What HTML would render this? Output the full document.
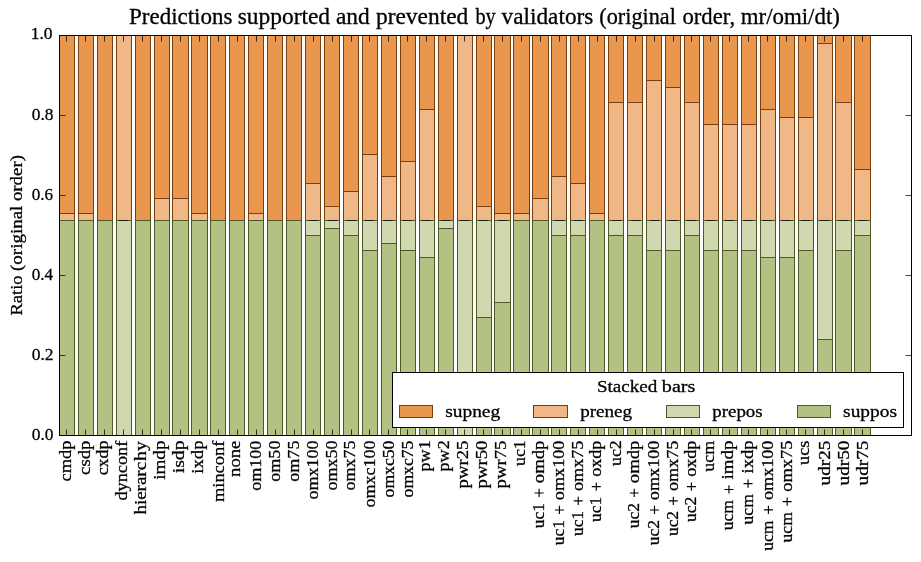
<!DOCTYPE html>
<html><head><meta charset="utf-8"><title>chart</title>
<style>
html,body{margin:0;padding:0;background:#fff;}
body{width:921px;height:562px;overflow:hidden;position:relative;font-family:"Liberation Serif",serif;}
svg{position:absolute;left:0;top:0;display:block}
text{font-family:"Liberation Serif",serif;fill:#000;stroke:#000;stroke-width:.3px}
</style></head><body>
<svg width="921" height="562" viewBox="0 0 921 562">
<rect x="0" y="0" width="921" height="562" fill="#fff"/>
<g shape-rendering="crispEdges">
<rect x="59.5" y="35.5" width="15" height="178" fill="#E9964F" stroke="#7A3E0A" stroke-width="1"/>
<rect x="59.5" y="213.5" width="15" height="7" fill="#F1B887" stroke="#7A3E0A" stroke-width="1"/>
<rect x="78.5" y="35.5" width="15" height="178" fill="#E9964F" stroke="#7A3E0A" stroke-width="1"/>
<rect x="78.5" y="213.5" width="15" height="7" fill="#F1B887" stroke="#7A3E0A" stroke-width="1"/>
<rect x="97.5" y="35.5" width="15" height="185" fill="#E9964F" stroke="#7A3E0A" stroke-width="1"/>
<rect x="116.5" y="35.5" width="15" height="0" fill="#E9964F" stroke="#7A3E0A" stroke-width="1"/>
<rect x="116.5" y="35.5" width="15" height="185" fill="#F1B887" stroke="#7A3E0A" stroke-width="1"/>
<rect x="135.5" y="35.5" width="15" height="185" fill="#E9964F" stroke="#7A3E0A" stroke-width="1"/>
<rect x="154.5" y="35.5" width="15" height="163" fill="#E9964F" stroke="#7A3E0A" stroke-width="1"/>
<rect x="154.5" y="198.5" width="15" height="22" fill="#F1B887" stroke="#7A3E0A" stroke-width="1"/>
<rect x="172.5" y="35.5" width="16" height="163" fill="#E9964F" stroke="#7A3E0A" stroke-width="1"/>
<rect x="172.5" y="198.5" width="16" height="22" fill="#F1B887" stroke="#7A3E0A" stroke-width="1"/>
<rect x="191.5" y="35.5" width="16" height="178" fill="#E9964F" stroke="#7A3E0A" stroke-width="1"/>
<rect x="191.5" y="213.5" width="16" height="7" fill="#F1B887" stroke="#7A3E0A" stroke-width="1"/>
<rect x="210.5" y="35.5" width="15" height="185" fill="#E9964F" stroke="#7A3E0A" stroke-width="1"/>
<rect x="229.5" y="35.5" width="15" height="185" fill="#E9964F" stroke="#7A3E0A" stroke-width="1"/>
<rect x="248.5" y="35.5" width="15" height="178" fill="#E9964F" stroke="#7A3E0A" stroke-width="1"/>
<rect x="248.5" y="213.5" width="15" height="7" fill="#F1B887" stroke="#7A3E0A" stroke-width="1"/>
<rect x="267.5" y="35.5" width="15" height="185" fill="#E9964F" stroke="#7A3E0A" stroke-width="1"/>
<rect x="286.5" y="35.5" width="15" height="185" fill="#E9964F" stroke="#7A3E0A" stroke-width="1"/>
<rect x="305.5" y="35.5" width="15" height="148" fill="#E9964F" stroke="#7A3E0A" stroke-width="1"/>
<rect x="305.5" y="183.5" width="15" height="37" fill="#F1B887" stroke="#7A3E0A" stroke-width="1"/>
<rect x="324.5" y="35.5" width="15" height="171" fill="#E9964F" stroke="#7A3E0A" stroke-width="1"/>
<rect x="324.5" y="206.5" width="15" height="14" fill="#F1B887" stroke="#7A3E0A" stroke-width="1"/>
<rect x="343.5" y="35.5" width="15" height="156" fill="#E9964F" stroke="#7A3E0A" stroke-width="1"/>
<rect x="343.5" y="191.5" width="15" height="29" fill="#F1B887" stroke="#7A3E0A" stroke-width="1"/>
<rect x="362.5" y="35.5" width="15" height="119" fill="#E9964F" stroke="#7A3E0A" stroke-width="1"/>
<rect x="362.5" y="154.5" width="15" height="66" fill="#F1B887" stroke="#7A3E0A" stroke-width="1"/>
<rect x="381.5" y="35.5" width="15" height="141" fill="#E9964F" stroke="#7A3E0A" stroke-width="1"/>
<rect x="381.5" y="176.5" width="15" height="44" fill="#F1B887" stroke="#7A3E0A" stroke-width="1"/>
<rect x="400.5" y="35.5" width="15" height="126" fill="#E9964F" stroke="#7A3E0A" stroke-width="1"/>
<rect x="400.5" y="161.5" width="15" height="59" fill="#F1B887" stroke="#7A3E0A" stroke-width="1"/>
<rect x="419.5" y="35.5" width="15" height="74" fill="#E9964F" stroke="#7A3E0A" stroke-width="1"/>
<rect x="419.5" y="109.5" width="15" height="111" fill="#F1B887" stroke="#7A3E0A" stroke-width="1"/>
<rect x="438.5" y="35.5" width="15" height="185" fill="#E9964F" stroke="#7A3E0A" stroke-width="1"/>
<rect x="457.5" y="35.5" width="15" height="0" fill="#E9964F" stroke="#7A3E0A" stroke-width="1"/>
<rect x="457.5" y="35.5" width="15" height="185" fill="#F1B887" stroke="#7A3E0A" stroke-width="1"/>
<rect x="476.5" y="35.5" width="15" height="171" fill="#E9964F" stroke="#7A3E0A" stroke-width="1"/>
<rect x="476.5" y="206.5" width="15" height="14" fill="#F1B887" stroke="#7A3E0A" stroke-width="1"/>
<rect x="494.5" y="35.5" width="16" height="178" fill="#E9964F" stroke="#7A3E0A" stroke-width="1"/>
<rect x="494.5" y="213.5" width="16" height="7" fill="#F1B887" stroke="#7A3E0A" stroke-width="1"/>
<rect x="513.5" y="35.5" width="16" height="178" fill="#E9964F" stroke="#7A3E0A" stroke-width="1"/>
<rect x="513.5" y="213.5" width="16" height="7" fill="#F1B887" stroke="#7A3E0A" stroke-width="1"/>
<rect x="532.5" y="35.5" width="16" height="163" fill="#E9964F" stroke="#7A3E0A" stroke-width="1"/>
<rect x="532.5" y="198.5" width="16" height="22" fill="#F1B887" stroke="#7A3E0A" stroke-width="1"/>
<rect x="551.5" y="35.5" width="15" height="141" fill="#E9964F" stroke="#7A3E0A" stroke-width="1"/>
<rect x="551.5" y="176.5" width="15" height="44" fill="#F1B887" stroke="#7A3E0A" stroke-width="1"/>
<rect x="570.5" y="35.5" width="15" height="148" fill="#E9964F" stroke="#7A3E0A" stroke-width="1"/>
<rect x="570.5" y="183.5" width="15" height="37" fill="#F1B887" stroke="#7A3E0A" stroke-width="1"/>
<rect x="589.5" y="35.5" width="15" height="178" fill="#E9964F" stroke="#7A3E0A" stroke-width="1"/>
<rect x="589.5" y="213.5" width="15" height="7" fill="#F1B887" stroke="#7A3E0A" stroke-width="1"/>
<rect x="608.5" y="35.5" width="15" height="67" fill="#E9964F" stroke="#7A3E0A" stroke-width="1"/>
<rect x="608.5" y="102.5" width="15" height="118" fill="#F1B887" stroke="#7A3E0A" stroke-width="1"/>
<rect x="627.5" y="35.5" width="15" height="67" fill="#E9964F" stroke="#7A3E0A" stroke-width="1"/>
<rect x="627.5" y="102.5" width="15" height="118" fill="#F1B887" stroke="#7A3E0A" stroke-width="1"/>
<rect x="646.5" y="35.5" width="15" height="45" fill="#E9964F" stroke="#7A3E0A" stroke-width="1"/>
<rect x="646.5" y="80.5" width="15" height="140" fill="#F1B887" stroke="#7A3E0A" stroke-width="1"/>
<rect x="665.5" y="35.5" width="15" height="52" fill="#E9964F" stroke="#7A3E0A" stroke-width="1"/>
<rect x="665.5" y="87.5" width="15" height="133" fill="#F1B887" stroke="#7A3E0A" stroke-width="1"/>
<rect x="684.5" y="35.5" width="15" height="67" fill="#E9964F" stroke="#7A3E0A" stroke-width="1"/>
<rect x="684.5" y="102.5" width="15" height="118" fill="#F1B887" stroke="#7A3E0A" stroke-width="1"/>
<rect x="703.5" y="35.5" width="15" height="89" fill="#E9964F" stroke="#7A3E0A" stroke-width="1"/>
<rect x="703.5" y="124.5" width="15" height="96" fill="#F1B887" stroke="#7A3E0A" stroke-width="1"/>
<rect x="722.5" y="35.5" width="15" height="89" fill="#E9964F" stroke="#7A3E0A" stroke-width="1"/>
<rect x="722.5" y="124.5" width="15" height="96" fill="#F1B887" stroke="#7A3E0A" stroke-width="1"/>
<rect x="741.5" y="35.5" width="15" height="89" fill="#E9964F" stroke="#7A3E0A" stroke-width="1"/>
<rect x="741.5" y="124.5" width="15" height="96" fill="#F1B887" stroke="#7A3E0A" stroke-width="1"/>
<rect x="760.5" y="35.5" width="15" height="74" fill="#E9964F" stroke="#7A3E0A" stroke-width="1"/>
<rect x="760.5" y="109.5" width="15" height="111" fill="#F1B887" stroke="#7A3E0A" stroke-width="1"/>
<rect x="779.5" y="35.5" width="15" height="82" fill="#E9964F" stroke="#7A3E0A" stroke-width="1"/>
<rect x="779.5" y="117.5" width="15" height="103" fill="#F1B887" stroke="#7A3E0A" stroke-width="1"/>
<rect x="798.5" y="35.5" width="15" height="82" fill="#E9964F" stroke="#7A3E0A" stroke-width="1"/>
<rect x="798.5" y="117.5" width="15" height="103" fill="#F1B887" stroke="#7A3E0A" stroke-width="1"/>
<rect x="817.5" y="35.5" width="15" height="8" fill="#E9964F" stroke="#7A3E0A" stroke-width="1"/>
<rect x="817.5" y="43.5" width="15" height="177" fill="#F1B887" stroke="#7A3E0A" stroke-width="1"/>
<rect x="835.5" y="35.5" width="16" height="67" fill="#E9964F" stroke="#7A3E0A" stroke-width="1"/>
<rect x="835.5" y="102.5" width="16" height="118" fill="#F1B887" stroke="#7A3E0A" stroke-width="1"/>
<rect x="854.5" y="35.5" width="16" height="134" fill="#E9964F" stroke="#7A3E0A" stroke-width="1"/>
<rect x="854.5" y="169.5" width="16" height="51" fill="#F1B887" stroke="#7A3E0A" stroke-width="1"/>
<rect x="59.5" y="220.5" width="15" height="215" fill="#B3C182" stroke="#505A28" stroke-width="1"/>
<rect x="78.5" y="220.5" width="15" height="215" fill="#B3C182" stroke="#505A28" stroke-width="1"/>
<rect x="97.5" y="220.5" width="15" height="215" fill="#B3C182" stroke="#505A28" stroke-width="1"/>
<rect x="116.5" y="220.5" width="15" height="215" fill="#CFD8AE" stroke="#505A28" stroke-width="1"/>
<rect x="135.5" y="220.5" width="15" height="215" fill="#B3C182" stroke="#505A28" stroke-width="1"/>
<rect x="154.5" y="220.5" width="15" height="215" fill="#B3C182" stroke="#505A28" stroke-width="1"/>
<rect x="172.5" y="220.5" width="16" height="215" fill="#B3C182" stroke="#505A28" stroke-width="1"/>
<rect x="191.5" y="220.5" width="16" height="215" fill="#B3C182" stroke="#505A28" stroke-width="1"/>
<rect x="210.5" y="220.5" width="15" height="215" fill="#B3C182" stroke="#505A28" stroke-width="1"/>
<rect x="229.5" y="220.5" width="15" height="215" fill="#B3C182" stroke="#505A28" stroke-width="1"/>
<rect x="248.5" y="220.5" width="15" height="215" fill="#B3C182" stroke="#505A28" stroke-width="1"/>
<rect x="267.5" y="220.5" width="15" height="215" fill="#B3C182" stroke="#505A28" stroke-width="1"/>
<rect x="286.5" y="220.5" width="15" height="215" fill="#B3C182" stroke="#505A28" stroke-width="1"/>
<rect x="305.5" y="220.5" width="15" height="15" fill="#CFD8AE" stroke="#505A28" stroke-width="1"/>
<rect x="305.5" y="235.5" width="15" height="200" fill="#B3C182" stroke="#505A28" stroke-width="1"/>
<rect x="324.5" y="220.5" width="15" height="8" fill="#CFD8AE" stroke="#505A28" stroke-width="1"/>
<rect x="324.5" y="228.5" width="15" height="207" fill="#B3C182" stroke="#505A28" stroke-width="1"/>
<rect x="343.5" y="220.5" width="15" height="15" fill="#CFD8AE" stroke="#505A28" stroke-width="1"/>
<rect x="343.5" y="235.5" width="15" height="200" fill="#B3C182" stroke="#505A28" stroke-width="1"/>
<rect x="362.5" y="220.5" width="15" height="30" fill="#CFD8AE" stroke="#505A28" stroke-width="1"/>
<rect x="362.5" y="250.5" width="15" height="185" fill="#B3C182" stroke="#505A28" stroke-width="1"/>
<rect x="381.5" y="220.5" width="15" height="23" fill="#CFD8AE" stroke="#505A28" stroke-width="1"/>
<rect x="381.5" y="243.5" width="15" height="192" fill="#B3C182" stroke="#505A28" stroke-width="1"/>
<rect x="400.5" y="220.5" width="15" height="30" fill="#CFD8AE" stroke="#505A28" stroke-width="1"/>
<rect x="400.5" y="250.5" width="15" height="185" fill="#B3C182" stroke="#505A28" stroke-width="1"/>
<rect x="419.5" y="220.5" width="15" height="37" fill="#CFD8AE" stroke="#505A28" stroke-width="1"/>
<rect x="419.5" y="257.5" width="15" height="178" fill="#B3C182" stroke="#505A28" stroke-width="1"/>
<rect x="438.5" y="220.5" width="15" height="8" fill="#CFD8AE" stroke="#505A28" stroke-width="1"/>
<rect x="438.5" y="228.5" width="15" height="207" fill="#B3C182" stroke="#505A28" stroke-width="1"/>
<rect x="457.5" y="220.5" width="15" height="215" fill="#CFD8AE" stroke="#505A28" stroke-width="1"/>
<rect x="476.5" y="220.5" width="15" height="97" fill="#CFD8AE" stroke="#505A28" stroke-width="1"/>
<rect x="476.5" y="317.5" width="15" height="118" fill="#B3C182" stroke="#505A28" stroke-width="1"/>
<rect x="494.5" y="220.5" width="16" height="82" fill="#CFD8AE" stroke="#505A28" stroke-width="1"/>
<rect x="494.5" y="302.5" width="16" height="133" fill="#B3C182" stroke="#505A28" stroke-width="1"/>
<rect x="513.5" y="220.5" width="16" height="215" fill="#B3C182" stroke="#505A28" stroke-width="1"/>
<rect x="532.5" y="220.5" width="16" height="215" fill="#B3C182" stroke="#505A28" stroke-width="1"/>
<rect x="551.5" y="220.5" width="15" height="15" fill="#CFD8AE" stroke="#505A28" stroke-width="1"/>
<rect x="551.5" y="235.5" width="15" height="200" fill="#B3C182" stroke="#505A28" stroke-width="1"/>
<rect x="570.5" y="220.5" width="15" height="15" fill="#CFD8AE" stroke="#505A28" stroke-width="1"/>
<rect x="570.5" y="235.5" width="15" height="200" fill="#B3C182" stroke="#505A28" stroke-width="1"/>
<rect x="589.5" y="220.5" width="15" height="215" fill="#B3C182" stroke="#505A28" stroke-width="1"/>
<rect x="608.5" y="220.5" width="15" height="15" fill="#CFD8AE" stroke="#505A28" stroke-width="1"/>
<rect x="608.5" y="235.5" width="15" height="200" fill="#B3C182" stroke="#505A28" stroke-width="1"/>
<rect x="627.5" y="220.5" width="15" height="15" fill="#CFD8AE" stroke="#505A28" stroke-width="1"/>
<rect x="627.5" y="235.5" width="15" height="200" fill="#B3C182" stroke="#505A28" stroke-width="1"/>
<rect x="646.5" y="220.5" width="15" height="30" fill="#CFD8AE" stroke="#505A28" stroke-width="1"/>
<rect x="646.5" y="250.5" width="15" height="185" fill="#B3C182" stroke="#505A28" stroke-width="1"/>
<rect x="665.5" y="220.5" width="15" height="30" fill="#CFD8AE" stroke="#505A28" stroke-width="1"/>
<rect x="665.5" y="250.5" width="15" height="185" fill="#B3C182" stroke="#505A28" stroke-width="1"/>
<rect x="684.5" y="220.5" width="15" height="15" fill="#CFD8AE" stroke="#505A28" stroke-width="1"/>
<rect x="684.5" y="235.5" width="15" height="200" fill="#B3C182" stroke="#505A28" stroke-width="1"/>
<rect x="703.5" y="220.5" width="15" height="30" fill="#CFD8AE" stroke="#505A28" stroke-width="1"/>
<rect x="703.5" y="250.5" width="15" height="185" fill="#B3C182" stroke="#505A28" stroke-width="1"/>
<rect x="722.5" y="220.5" width="15" height="30" fill="#CFD8AE" stroke="#505A28" stroke-width="1"/>
<rect x="722.5" y="250.5" width="15" height="185" fill="#B3C182" stroke="#505A28" stroke-width="1"/>
<rect x="741.5" y="220.5" width="15" height="30" fill="#CFD8AE" stroke="#505A28" stroke-width="1"/>
<rect x="741.5" y="250.5" width="15" height="185" fill="#B3C182" stroke="#505A28" stroke-width="1"/>
<rect x="760.5" y="220.5" width="15" height="37" fill="#CFD8AE" stroke="#505A28" stroke-width="1"/>
<rect x="760.5" y="257.5" width="15" height="178" fill="#B3C182" stroke="#505A28" stroke-width="1"/>
<rect x="779.5" y="220.5" width="15" height="37" fill="#CFD8AE" stroke="#505A28" stroke-width="1"/>
<rect x="779.5" y="257.5" width="15" height="178" fill="#B3C182" stroke="#505A28" stroke-width="1"/>
<rect x="798.5" y="220.5" width="15" height="30" fill="#CFD8AE" stroke="#505A28" stroke-width="1"/>
<rect x="798.5" y="250.5" width="15" height="185" fill="#B3C182" stroke="#505A28" stroke-width="1"/>
<rect x="817.5" y="220.5" width="15" height="119" fill="#CFD8AE" stroke="#505A28" stroke-width="1"/>
<rect x="817.5" y="339.5" width="15" height="96" fill="#B3C182" stroke="#505A28" stroke-width="1"/>
<rect x="835.5" y="220.5" width="16" height="30" fill="#CFD8AE" stroke="#505A28" stroke-width="1"/>
<rect x="835.5" y="250.5" width="16" height="185" fill="#B3C182" stroke="#505A28" stroke-width="1"/>
<rect x="854.5" y="220.5" width="16" height="15" fill="#CFD8AE" stroke="#505A28" stroke-width="1"/>
<rect x="854.5" y="235.5" width="16" height="200" fill="#B3C182" stroke="#505A28" stroke-width="1"/>
<rect x="119" y="220" width="9" height="1" fill="#111" opacity=".8"/>
<rect x="309" y="220" width="9" height="1" fill="#111" opacity=".8"/>
<rect x="328" y="220" width="9" height="1" fill="#111" opacity=".8"/>
<rect x="347" y="220" width="9" height="1" fill="#111" opacity=".8"/>
<rect x="365" y="220" width="9" height="1" fill="#111" opacity=".8"/>
<rect x="384" y="220" width="9" height="1" fill="#111" opacity=".8"/>
<rect x="403" y="220" width="9" height="1" fill="#111" opacity=".8"/>
<rect x="422" y="220" width="9" height="1" fill="#111" opacity=".8"/>
<rect x="441" y="220" width="9" height="1" fill="#111" opacity=".8"/>
<rect x="460" y="220" width="9" height="1" fill="#111" opacity=".8"/>
<rect x="479" y="220" width="9" height="1" fill="#111" opacity=".8"/>
<rect x="498" y="220" width="9" height="1" fill="#111" opacity=".8"/>
<rect x="555" y="220" width="9" height="1" fill="#111" opacity=".8"/>
<rect x="574" y="220" width="9" height="1" fill="#111" opacity=".8"/>
<rect x="612" y="220" width="9" height="1" fill="#111" opacity=".8"/>
<rect x="631" y="220" width="9" height="1" fill="#111" opacity=".8"/>
<rect x="650" y="220" width="9" height="1" fill="#111" opacity=".8"/>
<rect x="669" y="220" width="9" height="1" fill="#111" opacity=".8"/>
<rect x="687" y="220" width="9" height="1" fill="#111" opacity=".8"/>
<rect x="706" y="220" width="9" height="1" fill="#111" opacity=".8"/>
<rect x="725" y="220" width="9" height="1" fill="#111" opacity=".8"/>
<rect x="744" y="220" width="9" height="1" fill="#111" opacity=".8"/>
<rect x="763" y="220" width="9" height="1" fill="#111" opacity=".8"/>
<rect x="782" y="220" width="9" height="1" fill="#111" opacity=".8"/>
<rect x="801" y="220" width="9" height="1" fill="#111" opacity=".8"/>
<rect x="820" y="220" width="9" height="1" fill="#111" opacity=".8"/>
<rect x="839" y="220" width="9" height="1" fill="#111" opacity=".8"/>
<rect x="858" y="220" width="9" height="1" fill="#111" opacity=".8"/>
</g>
<g fill="#000" opacity=".75" shape-rendering="crispEdges"><rect x="66" y="430" width="1" height="5"/><rect x="66" y="429" width="1" height="1" opacity=".5"/><rect x="66" y="36" width="1" height="5"/><rect x="66" y="41" width="1" height="1" opacity=".5"/><rect x="85" y="430" width="1" height="5"/><rect x="85" y="429" width="1" height="1" opacity=".5"/><rect x="85" y="36" width="1" height="5"/><rect x="85" y="41" width="1" height="1" opacity=".5"/><rect x="104" y="430" width="1" height="5"/><rect x="104" y="429" width="1" height="1" opacity=".5"/><rect x="104" y="36" width="1" height="5"/><rect x="104" y="41" width="1" height="1" opacity=".5"/><rect x="123" y="430" width="1" height="5"/><rect x="123" y="429" width="1" height="1" opacity=".5"/><rect x="123" y="36" width="1" height="5"/><rect x="123" y="41" width="1" height="1" opacity=".5"/><rect x="142" y="430" width="1" height="5"/><rect x="142" y="429" width="1" height="1" opacity=".5"/><rect x="142" y="36" width="1" height="5"/><rect x="142" y="41" width="1" height="1" opacity=".5"/><rect x="161" y="430" width="1" height="5"/><rect x="161" y="429" width="1" height="1" opacity=".5"/><rect x="161" y="36" width="1" height="5"/><rect x="161" y="41" width="1" height="1" opacity=".5"/><rect x="180" y="430" width="1" height="5"/><rect x="180" y="429" width="1" height="1" opacity=".5"/><rect x="180" y="36" width="1" height="5"/><rect x="180" y="41" width="1" height="1" opacity=".5"/><rect x="199" y="430" width="1" height="5"/><rect x="199" y="429" width="1" height="1" opacity=".5"/><rect x="199" y="36" width="1" height="5"/><rect x="199" y="41" width="1" height="1" opacity=".5"/><rect x="218" y="430" width="1" height="5"/><rect x="218" y="429" width="1" height="1" opacity=".5"/><rect x="218" y="36" width="1" height="5"/><rect x="218" y="41" width="1" height="1" opacity=".5"/><rect x="237" y="430" width="1" height="5"/><rect x="237" y="429" width="1" height="1" opacity=".5"/><rect x="237" y="36" width="1" height="5"/><rect x="237" y="41" width="1" height="1" opacity=".5"/><rect x="256" y="430" width="1" height="5"/><rect x="256" y="429" width="1" height="1" opacity=".5"/><rect x="256" y="36" width="1" height="5"/><rect x="256" y="41" width="1" height="1" opacity=".5"/><rect x="275" y="430" width="1" height="5"/><rect x="275" y="429" width="1" height="1" opacity=".5"/><rect x="275" y="36" width="1" height="5"/><rect x="275" y="41" width="1" height="1" opacity=".5"/><rect x="294" y="430" width="1" height="5"/><rect x="294" y="429" width="1" height="1" opacity=".5"/><rect x="294" y="36" width="1" height="5"/><rect x="294" y="41" width="1" height="1" opacity=".5"/><rect x="313" y="430" width="1" height="5"/><rect x="313" y="429" width="1" height="1" opacity=".5"/><rect x="313" y="36" width="1" height="5"/><rect x="313" y="41" width="1" height="1" opacity=".5"/><rect x="332" y="430" width="1" height="5"/><rect x="332" y="429" width="1" height="1" opacity=".5"/><rect x="332" y="36" width="1" height="5"/><rect x="332" y="41" width="1" height="1" opacity=".5"/><rect x="351" y="430" width="1" height="5"/><rect x="351" y="429" width="1" height="1" opacity=".5"/><rect x="351" y="36" width="1" height="5"/><rect x="351" y="41" width="1" height="1" opacity=".5"/><rect x="369" y="430" width="1" height="5"/><rect x="369" y="429" width="1" height="1" opacity=".5"/><rect x="369" y="36" width="1" height="5"/><rect x="369" y="41" width="1" height="1" opacity=".5"/><rect x="388" y="430" width="1" height="5"/><rect x="388" y="429" width="1" height="1" opacity=".5"/><rect x="388" y="36" width="1" height="5"/><rect x="388" y="41" width="1" height="1" opacity=".5"/><rect x="407" y="430" width="1" height="5"/><rect x="407" y="429" width="1" height="1" opacity=".5"/><rect x="407" y="36" width="1" height="5"/><rect x="407" y="41" width="1" height="1" opacity=".5"/><rect x="426" y="430" width="1" height="5"/><rect x="426" y="429" width="1" height="1" opacity=".5"/><rect x="426" y="36" width="1" height="5"/><rect x="426" y="41" width="1" height="1" opacity=".5"/><rect x="445" y="430" width="1" height="5"/><rect x="445" y="429" width="1" height="1" opacity=".5"/><rect x="445" y="36" width="1" height="5"/><rect x="445" y="41" width="1" height="1" opacity=".5"/><rect x="464" y="430" width="1" height="5"/><rect x="464" y="429" width="1" height="1" opacity=".5"/><rect x="464" y="36" width="1" height="5"/><rect x="464" y="41" width="1" height="1" opacity=".5"/><rect x="483" y="430" width="1" height="5"/><rect x="483" y="429" width="1" height="1" opacity=".5"/><rect x="483" y="36" width="1" height="5"/><rect x="483" y="41" width="1" height="1" opacity=".5"/><rect x="502" y="430" width="1" height="5"/><rect x="502" y="429" width="1" height="1" opacity=".5"/><rect x="502" y="36" width="1" height="5"/><rect x="502" y="41" width="1" height="1" opacity=".5"/><rect x="521" y="430" width="1" height="5"/><rect x="521" y="429" width="1" height="1" opacity=".5"/><rect x="521" y="36" width="1" height="5"/><rect x="521" y="41" width="1" height="1" opacity=".5"/><rect x="540" y="430" width="1" height="5"/><rect x="540" y="429" width="1" height="1" opacity=".5"/><rect x="540" y="36" width="1" height="5"/><rect x="540" y="41" width="1" height="1" opacity=".5"/><rect x="559" y="430" width="1" height="5"/><rect x="559" y="429" width="1" height="1" opacity=".5"/><rect x="559" y="36" width="1" height="5"/><rect x="559" y="41" width="1" height="1" opacity=".5"/><rect x="578" y="430" width="1" height="5"/><rect x="578" y="429" width="1" height="1" opacity=".5"/><rect x="578" y="36" width="1" height="5"/><rect x="578" y="41" width="1" height="1" opacity=".5"/><rect x="597" y="430" width="1" height="5"/><rect x="597" y="429" width="1" height="1" opacity=".5"/><rect x="597" y="36" width="1" height="5"/><rect x="597" y="41" width="1" height="1" opacity=".5"/><rect x="616" y="430" width="1" height="5"/><rect x="616" y="429" width="1" height="1" opacity=".5"/><rect x="616" y="36" width="1" height="5"/><rect x="616" y="41" width="1" height="1" opacity=".5"/><rect x="635" y="430" width="1" height="5"/><rect x="635" y="429" width="1" height="1" opacity=".5"/><rect x="635" y="36" width="1" height="5"/><rect x="635" y="41" width="1" height="1" opacity=".5"/><rect x="654" y="430" width="1" height="5"/><rect x="654" y="429" width="1" height="1" opacity=".5"/><rect x="654" y="36" width="1" height="5"/><rect x="654" y="41" width="1" height="1" opacity=".5"/><rect x="673" y="430" width="1" height="5"/><rect x="673" y="429" width="1" height="1" opacity=".5"/><rect x="673" y="36" width="1" height="5"/><rect x="673" y="41" width="1" height="1" opacity=".5"/><rect x="691" y="430" width="1" height="5"/><rect x="691" y="429" width="1" height="1" opacity=".5"/><rect x="691" y="36" width="1" height="5"/><rect x="691" y="41" width="1" height="1" opacity=".5"/><rect x="710" y="430" width="1" height="5"/><rect x="710" y="429" width="1" height="1" opacity=".5"/><rect x="710" y="36" width="1" height="5"/><rect x="710" y="41" width="1" height="1" opacity=".5"/><rect x="729" y="430" width="1" height="5"/><rect x="729" y="429" width="1" height="1" opacity=".5"/><rect x="729" y="36" width="1" height="5"/><rect x="729" y="41" width="1" height="1" opacity=".5"/><rect x="748" y="430" width="1" height="5"/><rect x="748" y="429" width="1" height="1" opacity=".5"/><rect x="748" y="36" width="1" height="5"/><rect x="748" y="41" width="1" height="1" opacity=".5"/><rect x="767" y="430" width="1" height="5"/><rect x="767" y="429" width="1" height="1" opacity=".5"/><rect x="767" y="36" width="1" height="5"/><rect x="767" y="41" width="1" height="1" opacity=".5"/><rect x="786" y="430" width="1" height="5"/><rect x="786" y="429" width="1" height="1" opacity=".5"/><rect x="786" y="36" width="1" height="5"/><rect x="786" y="41" width="1" height="1" opacity=".5"/><rect x="805" y="430" width="1" height="5"/><rect x="805" y="429" width="1" height="1" opacity=".5"/><rect x="805" y="36" width="1" height="5"/><rect x="805" y="41" width="1" height="1" opacity=".5"/><rect x="824" y="430" width="1" height="5"/><rect x="824" y="429" width="1" height="1" opacity=".5"/><rect x="824" y="36" width="1" height="5"/><rect x="824" y="41" width="1" height="1" opacity=".5"/><rect x="843" y="430" width="1" height="5"/><rect x="843" y="429" width="1" height="1" opacity=".5"/><rect x="843" y="36" width="1" height="5"/><rect x="843" y="41" width="1" height="1" opacity=".5"/><rect x="862" y="430" width="1" height="5"/><rect x="862" y="429" width="1" height="1" opacity=".5"/><rect x="862" y="36" width="1" height="5"/><rect x="862" y="41" width="1" height="1" opacity=".5"/><rect x="60" y="355" width="5" height="1"/><rect x="65" y="355" width="1" height="1" opacity=".5"/><rect x="906" y="355" width="5" height="1"/><rect x="905" y="355" width="1" height="1" opacity=".5"/><rect x="60" y="275" width="5" height="1"/><rect x="65" y="275" width="1" height="1" opacity=".5"/><rect x="906" y="275" width="5" height="1"/><rect x="905" y="275" width="1" height="1" opacity=".5"/><rect x="60" y="195" width="5" height="1"/><rect x="65" y="195" width="1" height="1" opacity=".5"/><rect x="906" y="195" width="5" height="1"/><rect x="905" y="195" width="1" height="1" opacity=".5"/><rect x="60" y="115" width="5" height="1"/><rect x="65" y="115" width="1" height="1" opacity=".5"/><rect x="906" y="115" width="5" height="1"/><rect x="905" y="115" width="1" height="1" opacity=".5"/></g>
<rect x="59.5" y="35.5" width="852" height="400" fill="none" stroke="#000" stroke-width="1" shape-rendering="crispEdges"/>
<rect x="392.5" y="372.5" width="511" height="55" fill="#fff" stroke="#000" stroke-width="1" shape-rendering="crispEdges"/>
<rect x="399.5" y="405.5" width="33" height="12" fill="#E9964F" stroke="#7A3E0A" stroke-width="1" shape-rendering="crispEdges"/>
<rect x="533.5" y="405.5" width="34" height="12" fill="#F1B887" stroke="#7A3E0A" stroke-width="1" shape-rendering="crispEdges"/>
<rect x="666.5" y="405.5" width="33" height="12" fill="#CFD8AE" stroke="#505A28" stroke-width="1" shape-rendering="crispEdges"/>
<rect x="797.5" y="405.5" width="33" height="12" fill="#B3C182" stroke="#505A28" stroke-width="1" shape-rendering="crispEdges"/>
<g opacity=".999">
<text transform="translate(129.04,24.20) scale(1.0356,1)" font-size="22.2">Predictions</text>
<text transform="translate(237.67,24.20) scale(1.0557,1)" font-size="22.2">supported</text>
<text transform="translate(335.97,24.20) scale(1.0555,1)" font-size="22.2">and</text>
<text transform="translate(375.93,24.20) scale(1.0554,1)" font-size="22.2">prevented</text>
<text transform="translate(475.40,24.20) scale(0.9144,1)" font-size="22.2">by</text>
<text transform="translate(501.60,24.20) scale(1.0486,1)" font-size="22.2">validators</text>
<text transform="translate(599.31,24.20) scale(1.0016,1)" font-size="22.2">(original</text>
<text transform="translate(682.39,24.20) scale(1.0239,1)" font-size="22.2">order,</text>
<text transform="translate(740.74,24.20) scale(1.0311,1)" font-size="22.2">mr/omi/dt)</text>
<text transform="translate(445.19,416.80) scale(1.1559,1)" font-size="16.8">supneg</text>
<text transform="translate(580.20,416.80) scale(1.1354,1)" font-size="16.8">preneg</text>
<text transform="translate(712.30,416.80) scale(1.1244,1)" font-size="16.8">prepos</text>
<text transform="translate(843.09,416.80) scale(1.1545,1)" font-size="16.8">suppos</text>
<text transform="translate(596.91,391.80) scale(1.0902,1)" font-size="17.5">Stacked</text>
<text transform="translate(661.80,391.80) scale(1.1525,1)" font-size="17.5">bars</text>
<text transform="translate(31.76,440.00) scale(0.9961,1)" font-size="17.5" stroke-width=".1">0.0</text>
<text transform="translate(31.75,360.00) scale(0.9996,1)" font-size="17.5" stroke-width=".1">0.2</text>
<text transform="translate(31.76,280.00) scale(0.9784,1)" font-size="17.5" stroke-width=".1">0.4</text>
<text transform="translate(31.76,200.00) scale(0.9784,1)" font-size="17.5" stroke-width=".1">0.6</text>
<text transform="translate(31.76,120.00) scale(0.9913,1)" font-size="17.5" stroke-width=".1">0.8</text>
<text transform="translate(30.63,39.05) scale(1.0020,1)" font-size="17.5" stroke-width=".1">1.0</text>
<text transform="translate(70.70,481.48) rotate(-90) scale(1.0533,1)" font-size="17.5">cmdp</text>
<text transform="translate(89.70,474.89) rotate(-90) scale(1.0715,1)" font-size="17.5">csdp</text>
<text transform="translate(108.40,475.36) rotate(-90) scale(1.0236,1)" font-size="17.5">cxdp</text>
<text transform="translate(126.80,500.57) rotate(-90) scale(1.0441,1)" font-size="17.5">dynconf</text>
<text transform="translate(145.60,514.60) rotate(-90) scale(1.0854,1)" font-size="17.5">hierarc</text>
<text transform="translate(145.60,460.90) rotate(-90) scale(1.1314,1)" font-size="17.5">hy</text>
<text transform="translate(164.70,479.80) rotate(-90) scale(1.0923,1)" font-size="17.5">imdp</text>
<text transform="translate(183.70,473.21) rotate(-90) scale(1.1216,1)" font-size="17.5">isdp</text>
<text transform="translate(202.70,473.69) rotate(-90) scale(1.0663,1)" font-size="17.5">ixdp</text>
<text transform="translate(223.75,501.99) rotate(-90) scale(1.0509,1)" font-size="17.5">minconf</text>
<text transform="translate(239.80,476.89) rotate(-90) scale(1.0642,1)" font-size="17.5">none</text>
<text transform="translate(260.85,490.87) rotate(-90) scale(1.0354,1)" font-size="17.5">om100</text>
<text transform="translate(279.50,481.77) rotate(-90) scale(1.0343,1)" font-size="17.5">om50</text>
<text transform="translate(298.50,481.77) rotate(-90) scale(1.0343,1)" font-size="17.5">om75</text>
<text transform="translate(317.75,499.56) rotate(-90) scale(1.0290,1)" font-size="17.5">omx100</text>
<text transform="translate(336.90,490.46) rotate(-90) scale(1.0270,1)" font-size="17.5">omx50</text>
<text transform="translate(355.30,490.46) rotate(-90) scale(1.0270,1)" font-size="17.5">omx75</text>
<text transform="translate(374.60,507.56) rotate(-90) scale(1.0291,1)" font-size="17.5">omxc100</text>
<text transform="translate(393.60,497.45) rotate(-90) scale(1.0093,1)" font-size="17.5">omxc50</text>
<text transform="translate(412.60,497.45) rotate(-90) scale(1.0093,1)" font-size="17.5">omxc75</text>
<text transform="translate(430.00,471.48) rotate(-90) scale(1.0364,1)" font-size="17.5">pw1</text>
<text transform="translate(448.85,471.48) rotate(-90) scale(1.0364,1)" font-size="17.5">pw2</text>
<text transform="translate(467.75,488.49) rotate(-90) scale(1.0730,1)" font-size="17.5">pwr25</text>
<text transform="translate(486.85,488.49) rotate(-90) scale(1.0730,1)" font-size="17.5">pwr50</text>
<text transform="translate(505.75,488.49) rotate(-90) scale(1.0730,1)" font-size="17.5">pwr75</text>
<text transform="translate(525.30,466.00) rotate(-90) scale(1.0185,1)" font-size="17.5">uc1</text>
<text transform="translate(543.60,528.20) rotate(-90) scale(0.9981,1)" font-size="17.5">uc1</text>
<path d="M534.60 492.95H543.60M539.10 488.85V497.05" stroke="#000" stroke-width="1.15" fill="none"/>
<text transform="translate(543.60,483.19) rotate(-90) scale(1.0705,1)" font-size="17.5">omdp</text>
<text transform="translate(563.90,545.20) rotate(-90) scale(0.9981,1)" font-size="17.5">uc1</text>
<path d="M554.90 509.95H563.90M559.40 505.85V514.05" stroke="#000" stroke-width="1.15" fill="none"/>
<text transform="translate(563.90,500.17) rotate(-90) scale(1.0397,1)" font-size="17.5">omx100</text>
<text transform="translate(582.70,536.10) rotate(-90) scale(0.9981,1)" font-size="17.5">uc1</text>
<path d="M573.70 500.85H582.70M578.20 496.75V504.95" stroke="#000" stroke-width="1.15" fill="none"/>
<text transform="translate(582.70,491.07) rotate(-90) scale(1.0396,1)" font-size="17.5">omx75</text>
<text transform="translate(600.80,521.90) rotate(-90) scale(0.9981,1)" font-size="17.5">uc1</text>
<path d="M591.80 486.65H600.80M596.30 482.55V490.75" stroke="#000" stroke-width="1.15" fill="none"/>
<text transform="translate(600.80,476.87) rotate(-90) scale(1.0382,1)" font-size="17.5">oxdp</text>
<text transform="translate(621.00,466.00) rotate(-90) scale(1.0185,1)" font-size="17.5">uc2</text>
<text transform="translate(638.70,528.20) rotate(-90) scale(0.9981,1)" font-size="17.5">uc2</text>
<path d="M629.70 492.95H638.70M634.20 488.85V497.05" stroke="#000" stroke-width="1.15" fill="none"/>
<text transform="translate(638.70,483.19) rotate(-90) scale(1.0705,1)" font-size="17.5">omdp</text>
<text transform="translate(659.00,545.20) rotate(-90) scale(0.9981,1)" font-size="17.5">uc2</text>
<path d="M650.00 509.95H659.00M654.50 505.85V514.05" stroke="#000" stroke-width="1.15" fill="none"/>
<text transform="translate(659.00,500.17) rotate(-90) scale(1.0397,1)" font-size="17.5">omx100</text>
<text transform="translate(677.80,536.10) rotate(-90) scale(0.9981,1)" font-size="17.5">uc2</text>
<path d="M668.80 500.85H677.80M673.30 496.75V504.95" stroke="#000" stroke-width="1.15" fill="none"/>
<text transform="translate(677.80,491.07) rotate(-90) scale(1.0396,1)" font-size="17.5">omx75</text>
<text transform="translate(695.90,521.90) rotate(-90) scale(0.9981,1)" font-size="17.5">uc2</text>
<path d="M686.90 486.65H695.90M691.40 482.55V490.75" stroke="#000" stroke-width="1.15" fill="none"/>
<text transform="translate(695.90,476.87) rotate(-90) scale(1.0382,1)" font-size="17.5">oxdp</text>
<text transform="translate(713.60,471.70) rotate(-90) scale(1.0229,1)" font-size="17.5">ucm</text>
<text transform="translate(733.45,530.30) rotate(-90) scale(1.0028,1)" font-size="17.5">ucm</text>
<path d="M724.45 489.45H733.45M728.95 485.35V493.55" stroke="#000" stroke-width="1.15" fill="none"/>
<text transform="translate(733.45,479.40) rotate(-90) scale(1.0810,1)" font-size="17.5">imdp</text>
<text transform="translate(752.55,524.40) rotate(-90) scale(1.0028,1)" font-size="17.5">ucm</text>
<path d="M743.55 483.55H752.55M748.05 479.45V487.65" stroke="#000" stroke-width="1.15" fill="none"/>
<text transform="translate(752.55,473.49) rotate(-90) scale(1.0597,1)" font-size="17.5">ixdp</text>
<text transform="translate(772.90,550.70) rotate(-90) scale(1.0028,1)" font-size="17.5">ucm</text>
<path d="M763.90 509.85H772.90M768.40 505.75V513.95" stroke="#000" stroke-width="1.15" fill="none"/>
<text transform="translate(772.90,500.07) rotate(-90) scale(1.0379,1)" font-size="17.5">omx100</text>
<text transform="translate(791.65,542.40) rotate(-90) scale(1.0028,1)" font-size="17.5">ucm</text>
<path d="M782.65 501.55H791.65M787.15 497.45V505.65" stroke="#000" stroke-width="1.15" fill="none"/>
<text transform="translate(791.65,491.78) rotate(-90) scale(1.0543,1)" font-size="17.5">omx75</text>
<text transform="translate(809.00,465.00) rotate(-90) scale(1.0480,1)" font-size="17.5">ucs</text>
<text transform="translate(829.95,485.40) rotate(-90) scale(1.0998,1)" font-size="17.5">udr25</text>
<text transform="translate(848.95,485.40) rotate(-90) scale(1.0998,1)" font-size="17.5">udr50</text>
<text transform="translate(867.95,485.40) rotate(-90) scale(1.0998,1)" font-size="17.5">udr75</text>
<text transform="translate(22.10,315.49) rotate(-90) scale(1.0568,1)" font-size="17.5">Ratio</text>
<text transform="translate(22.10,270.99) rotate(-90) scale(1.0841,1)" font-size="17.5">(original</text>
<text transform="translate(22.10,201.09) rotate(-90) scale(1.0777,1)" font-size="17.5">order)</text>
</g>
</svg>
</body></html>
